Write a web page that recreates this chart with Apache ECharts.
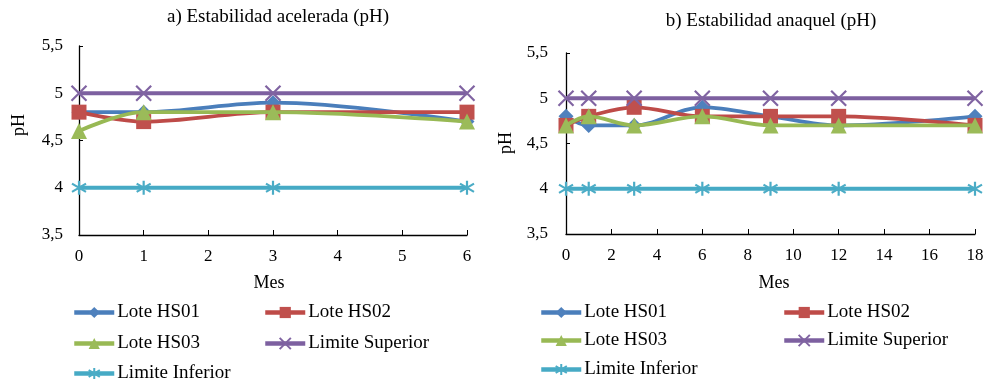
<!DOCTYPE html>
<html>
<head>
<meta charset="utf-8">
<script src="https://cdn.jsdelivr.net/npm/echarts@6/dist/echarts.min.js"></script>
<style>
  html, body { margin: 0; padding: 0; background: #fff; }
  #chart { width: 993px; height: 382px; }
</style>
</head>
<body>
<div id="chart"></div>
<script>
// a) Estabilidad acelerada: months and pH per batch
const mesesA = [0, 1, 3, 6];
const hs01A = [4.8, 4.8, 4.9, 4.7];
const hs02A = [4.8, 4.7, 4.8, 4.8];
const hs03A = [4.6, 4.8, 4.8, 4.7];
const supA = [5, 5, 5, 5];
const infA = [4, 4, 4, 4];

// b) Estabilidad anaquel: months and pH per batch
const mesesB = [0, 1, 3, 6, 9, 12, 18];
const hs01B = [4.8, 4.7, 4.7, 4.9, 4.8, 4.7, 4.8];
const hs02B = [4.7, 4.8, 4.9, 4.8, 4.8, 4.8, 4.7];
const hs03B = [4.7, 4.8, 4.7, 4.8, 4.7, 4.7, 4.7];
const supB = [5, 5, 5, 5, 5, 5, 5];
const infB = [4, 4, 4, 4, 4, 4, 4];

const seriesNames = ['Lote HS01', 'Lote HS02', 'Lote HS03', 'Limite Superior', 'Limite Inferior'];
const titles = ['a) Estabilidad acelerada (pH)', 'b) Estabilidad anaquel (pH)'];

const FONT = '"Liberation Serif", "DejaVu Serif", serif';
const lineColors = ['#4A7EBB', '#BE4B48', '#98B954', '#7D60A0', '#46AAC5'];
const markColors = ['#4F81BD', '#C0504D', '#9BBB59', '#8064A2', '#4BACC6'];
const crossPath = 'path://M0 0L10 10M10 0L0 10';
const starPath = 'path://M0 1.5L10 8.5M10 1.5L0 8.5M5 -1L5 11';

function pairs(xs, ys) { return xs.map((x, i) => [x, ys[i]]); }

function makeSeries(idx, xs, ysList) {
  return ysList.map((ys, k) => {
    const s = {
      name: seriesNames[k],
      type: 'line',
      xAxisIndex: idx,
      yAxisIndex: idx,
      data: pairs(xs, ys),
      smooth: 0.35,
      lineStyle: { color: lineColors[k], width: 3.8 },
      color: markColors[k],
      itemStyle: { color: markColors[k] },
      emphasis: { disabled: true },
      z: 2 + k
    };
    if (k === 0) { s.symbol = 'diamond'; s.symbolSize = 15; }
    if (k === 1) { s.symbol = 'rect'; s.symbolSize = 15; }
    if (k === 2) { s.symbol = 'triangle'; s.symbolSize = 16; }
    if (k === 3) {
      s.symbol = crossPath; s.symbolSize = 15;
      s.itemStyle = { color: 'rgba(0,0,0,0)', borderColor: markColors[k], borderWidth: 2.2 };
    }
    if (k === 4) {
      s.symbol = starPath; s.symbolSize = 14;
      s.itemStyle = { color: 'rgba(0,0,0,0)', borderColor: markColors[k], borderWidth: 2.2 };
    }
    return s;
  });
}

function xAxis(idx, max, interval) {
  return {
    type: 'value', gridIndex: idx, min: 0, max: max, interval: interval,
    axisLine: { show: true, lineStyle: { color: '#000', width: 1.3 } },
    axisTick: { show: true, inside: true, length: 5, lineStyle: { color: '#000' } },
    axisLabel: { fontFamily: FONT, fontSize: 17, color: '#000', margin: 13 },
    splitLine: { show: false }
  };
}

function yAxis(idx, margin) {
  return {
    type: 'value', gridIndex: idx, min: 3.5, max: 5.5, interval: 0.5,
    axisLine: { show: true, lineStyle: { color: '#000', width: 1.3 } },
    axisTick: { show: true, inside: true, length: 4, lineStyle: { color: '#000' } },
    axisLabel: {
      fontFamily: FONT, fontSize: 17, color: '#000', margin: margin,
      formatter: v => String(v).replace('.', ',')
    },
    splitLine: { show: false }
  };
}

function legendEntry(name, left, centerY) {
  return {
    orient: 'horizontal',
    left: left, top: centerY - 8,
    padding: 0,
    data: [name],
    itemWidth: 40, itemHeight: 14, itemGap: 0,
    lineStyle: { width: 4.5 },
    textStyle: { fontFamily: FONT, fontSize: 19, color: '#000', padding: [0, 0, 0, -2] },
    selectedMode: false
  };
}

// legend layout: two columns per chart, three rows
const colA = [72, 263];
const rowsA = [311, 342, 372];
const colB = [539, 782];
const rowsB = [311, 339, 368];
const legends = [];
seriesNames.forEach((n, k) => {
  const c = k % 2, r = Math.floor(k / 2);
  legends.push(legendEntry(n, colA[c], rowsA[r]));
  legends.push(legendEntry(n, colB[c], rowsB[r]));
});

const textStyle = { fontFamily: FONT, fontSize: 18, fill: '#000' };

const chart = echarts.init(document.getElementById('chart'), null, { renderer: 'canvas' });
chart.setOption({
  animation: false,
  backgroundColor: '#fff',
  title: [
    { text: titles[0], left: 273, top: 3, textAlign: 'center',
      textStyle: { fontFamily: FONT, fontSize: 19, fontWeight: 'normal', color: '#000' } },
    { text: titles[1], left: 766, top: 7, textAlign: 'center',
      textStyle: { fontFamily: FONT, fontSize: 19, fontWeight: 'normal', color: '#000' } }
  ],
  legend: legends,
  grid: [
    { left: 79, right: 526, top: 46, bottom: 147 },
    { left: 566, right: 18, top: 53, bottom: 148 }
  ],
  xAxis: [xAxis(0, 6, 1), xAxis(1, 18, 2)],
  yAxis: [yAxis(0, 16), yAxis(1, 18)],
  graphic: [
    { type: 'text', x: 19, y: 125, rotation: Math.PI / 2, silent: true,
      style: Object.assign({ text: 'pH', align: 'center', verticalAlign: 'middle' }, textStyle) },
    { type: 'text', x: 506, y: 143, rotation: Math.PI / 2, silent: true,
      style: Object.assign({ text: 'pH', align: 'center', verticalAlign: 'middle' }, textStyle) },
    { type: 'text', x: 269, y: 283, silent: true,
      style: Object.assign({ text: 'Mes', align: 'center', verticalAlign: 'middle' }, textStyle) },
    { type: 'text', x: 774, y: 283, silent: true,
      style: Object.assign({ text: 'Mes', align: 'center', verticalAlign: 'middle' }, textStyle) }
  ],
  series: [].concat(
    makeSeries(0, mesesA, [hs01A, hs02A, hs03A, supA, infA]),
    makeSeries(1, mesesB, [hs01B, hs02B, hs03B, supB, infB])
  )
});
</script>
</body>
</html>
